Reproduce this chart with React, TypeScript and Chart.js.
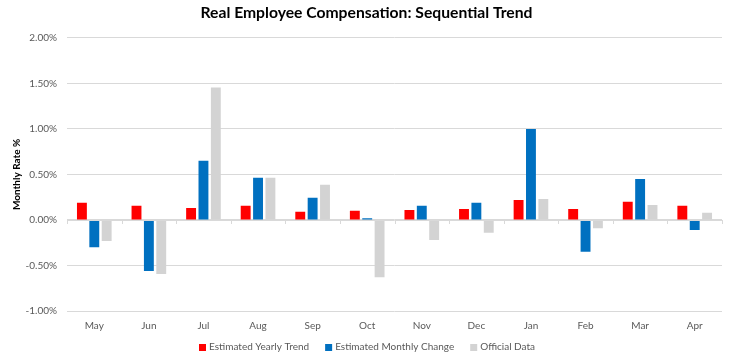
import React, { useEffect, useRef } from "react";
import { Chart, registerables } from "chart.js";

Chart.register(...registerables);

const months = ["May", "Jun", "Jul", "Aug", "Sep", "Oct", "Nov", "Dec", "Jan", "Feb", "Mar", "Apr"];
const yearlyTrend = [0.19, 0.155, 0.13, 0.155, 0.09, 0.1, 0.11, 0.12, 0.22, 0.12, 0.2, 0.155];
const monthlyChange = [-0.3, -0.56, 0.65, 0.463, 0.243, 0.02, 0.155, 0.19, 1.0, -0.35, 0.45, -0.11];
const officialData = [-0.23, -0.595, 1.455, 0.463, 0.386, -0.628, -0.22, -0.14, 0.23, -0.09, 0.165, 0.08];

const FONT = "Lato, 'Open Sans', sans-serif";

const zeroTicks = {
  id: "zeroTicks",
  afterDatasetsDraw(chart: any) {
    const { ctx, chartArea, scales } = chart;
    const y0 = scales.y.getPixelForValue(0);
    const n = months.length;
    const w = (chartArea.right - chartArea.left) / n;
    ctx.save();
    ctx.strokeStyle = "#D9D9D9";
    ctx.lineWidth = 1;
    ctx.beginPath();
    ctx.moveTo(chartArea.left, Math.round(y0) + 0.5);
    ctx.lineTo(chartArea.right, Math.round(y0) + 0.5);
    for (let i = 0; i <= n; i++) {
      const x = Math.round(chartArea.left + i * w) + 0.5;
      ctx.moveTo(x, Math.round(y0));
      ctx.lineTo(x, Math.round(y0) + 4);
    }
    ctx.stroke();
    ctx.restore();
  },
};

const bottomLegend = {
  id: "bottomLegend",
  afterDraw(chart: any) {
    const { ctx } = chart;
    const ds = chart.data.datasets;
    ctx.save();
    ctx.font = `10px ${FONT}`;
    const box = 7;
    const gapBoxText = 3;
    const gapItems = 16;
    const widths = ds.map((d: any) => box + gapBoxText + ctx.measureText(d.label).width);
    const total = widths.reduce((a: number, b: number) => a + b, 0) + gapItems * (ds.length - 1);
    let x = Math.round(chart.width / 2 - 3 - total / 2);
    const yc = 347;
    ctx.textBaseline = "middle";
    ctx.textAlign = "left";
    ds.forEach((d: any, i: number) => {
      ctx.fillStyle = d.backgroundColor;
      ctx.fillRect(x, yc - 3, box, box);
      ctx.fillStyle = "#595959";
      ctx.fillText(d.label, x + box + gapBoxText, yc);
      x += widths[i] + gapItems;
    });
    ctx.restore();
  },
};

export default function App() {
  const ref = useRef<HTMLCanvasElement | null>(null);
  useEffect(() => {
    if (!ref.current) return;
    const chart = new Chart(ref.current, {
      type: "bar",
      data: {
        labels: months,
        datasets: [
          { label: "Estimated Yearly Trend", data: yearlyTrend, backgroundColor: "#FF0000" },
          { label: "Estimated Monthly Change", data: monthlyChange, backgroundColor: "#0070C0" },
          { label: "Official Data", data: officialData, backgroundColor: "#D3D3D3" },
        ],
      },
      options: {
        animation: false,
        responsive: false,
        maintainAspectRatio: false,
        datasets: { bar: { categoryPercentage: 0.68, barPercentage: 0.8 } },
        layout: { padding: { left: 11, right: 19, top: 0, bottom: 17 } },
        plugins: {
          title: {
            display: true,
            text: "Real Employee Compensation: Sequential Trend",
            color: "#000000",
            font: { family: FONT, size: 15.7, weight: "bold" },
            padding: { top: 4, bottom: 15 },
          },
          legend: { display: false },
          tooltip: { enabled: false },
        },
        scales: {
          x: {
            grid: { display: false, drawTicks: false },
            border: { display: false },
            ticks: { color: "#595959", font: { family: FONT, size: 10 }, padding: 9 },
          },
          y: {
            min: -1,
            max: 2,
            afterFit: (scale: any) => {
              scale.width = 56;
            },
            grid: { color: "#D9D9D9", drawTicks: false },
            border: { display: false },
            ticks: {
              stepSize: 0.5,
              color: "#595959",
              font: { family: FONT, size: 10 },
              padding: 10,
              callback: (v: any) => Number(v).toFixed(2) + "%",
            },
            title: {
              display: true,
              text: "Monthly Rate %",
              color: "#000000",
              font: { family: FONT, size: 10, weight: "bold" },
              padding: { top: 0, bottom: 0 },
            },
          },
        },
      },
      plugins: [zeroTicks, bottomLegend],
    });
    return () => chart.destroy();
  }, []);
  return (
    <div style={{ position: "fixed", left: 0, top: 0, width: 741, height: 358, background: "#fff" }}>
      <canvas ref={ref} width={741} height={358} style={{ width: 741, height: 358 }} />
    </div>
  );
}
